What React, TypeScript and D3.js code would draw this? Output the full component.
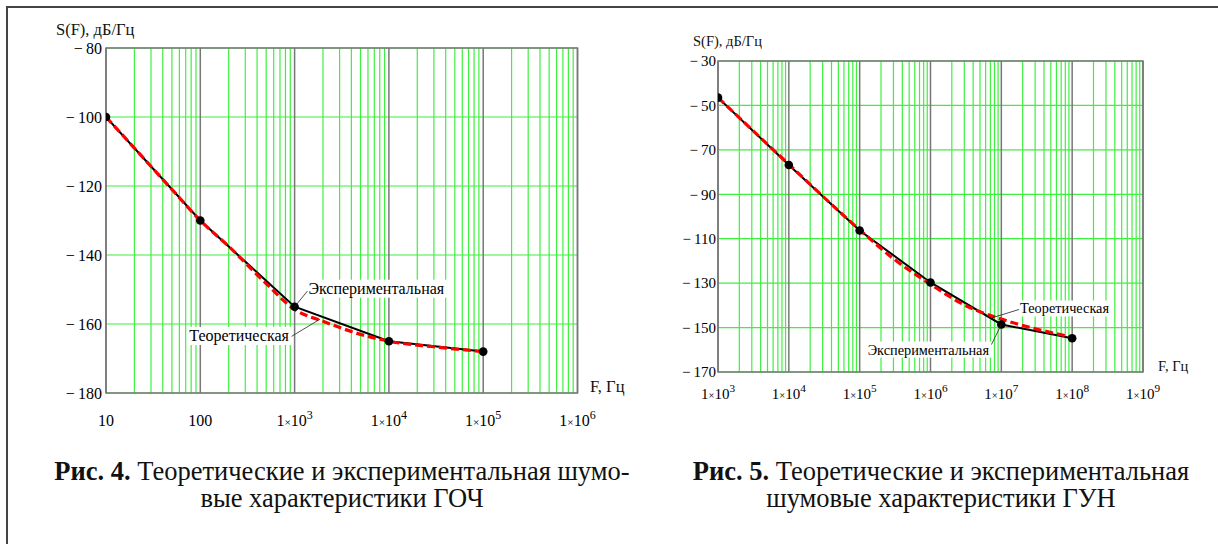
import React, { useRef, useEffect } from "react";
import * as d3 from "d3";

// Рис. 4 — ГОЧ
const gochExpFreq = [10, 100, 1e3, 1e4, 1e5];
const gochExp = [-100, -130, -155, -165, -168];
const gochTheoryFreq = [10, 20, 50, 100, 200, 500, 1e3, 2e3, 5e3, 1e4, 3e4, 1e5];
const gochTheory = [-100, -109, -121, -130, -137.5, -148.3, -155.8, -159.2, -163, -165, -166.6, -168];
const gochYTicks = [-80, -100, -120, -140, -160, -180];
const gochXTicks = [10, 100, 1e3, 1e4, 1e5, 1e6];

// Рис. 5 — ГУН
const gunExpFreq = [1e3, 1e4, 1e5, 1e6, 1e7, 1e8];
const gunExp = [-46.5, -76.8, -106.3, -129.7, -148.6, -154.8];
const gunTheoryFreq = [1e3, 1e4, 1e5, 3e5, 1e6, 3e6, 1e7, 3e7, 1e8];
const gunTheory = [-46.5, -76.5, -106, -119, -130.5, -139.8, -146.2, -150.5, -154.3];
const gunYTicks = [-30, -50, -70, -90, -110, -130, -150, -170];
const gunXTicks = [1e3, 1e4, 1e5, 1e6, 1e7, 1e8, 1e9];

const FONT = "Liberation Serif, Times New Roman, DejaVu Serif, serif";

let clipId = 0;

function drawChart(svg, o) {
  const x = d3.scaleLog().domain(o.xDomain).range([o.left, o.right]);
  const y = d3.scaleLinear().domain(o.yDomain).range([o.bottom, o.top]);
  const g = svg.append("g");

  // сетка: промежуточные значения внутри декад
  const minor = [];
  for (let p = Math.log10(o.xDomain[0]); p < Math.log10(o.xDomain[1]); p++) {
    for (let k = 2; k <= 9; k++) minor.push(k * Math.pow(10, p));
  }
  g.selectAll(".minor").data(minor).join("line")
    .attr("x1", (d) => x(d)).attr("x2", (d) => x(d))
    .attr("y1", o.top).attr("y2", o.bottom)
    .attr("stroke", "#3ef03e").attr("stroke-width", 1.2);
  g.selectAll(".hgrid").data(o.yTicks).join("line")
    .attr("x1", o.left).attr("x2", o.right)
    .attr("y1", (d) => y(d)).attr("y2", (d) => y(d))
    .attr("stroke", "#3ef03e").attr("stroke-width", 1.2);
  g.selectAll(".major").data(o.xTicks).join("line")
    .attr("x1", (d) => x(d)).attr("x2", (d) => x(d))
    .attr("y1", o.top).attr("y2", o.bottom)
    .attr("stroke", "#777").attr("stroke-width", 1.5);
  g.append("rect")
    .attr("x", o.left).attr("y", o.top)
    .attr("width", o.right - o.left).attr("height", o.bottom - o.top)
    .attr("fill", "none").attr("stroke", "#777").attr("stroke-width", 1.5);

  // подписи осей
  g.selectAll(".ytick").data(o.yTicks).join("text")
    .attr("x", o.left - o.tickGap).attr("y", (d) => y(d))
    .attr("dy", "0.35em").attr("text-anchor", "end")
    .style("font-family", FONT).attr("font-size", o.fs)
    .text((d) => "\u2212\u2009" + Math.abs(d));

  const xl = g.selectAll(".xtick").data(o.xTicks).join("text")
    .attr("x", (d) => x(d)).attr("y", o.xLabelY)
    .attr("text-anchor", "middle")
    .style("font-family", FONT).attr("font-size", o.fs);
  xl.each(function (d) {
    const t = d3.select(this);
    const p = Math.round(Math.log10(d));
    if (p <= 2) {
      t.text(String(d));
    } else {
      t.append("tspan").text("1");
      t.append("tspan").attr("font-size", o.fs * 0.7).text("\u00d7");
      t.append("tspan").text("10");
      t.append("tspan").attr("font-size", o.fs * 0.75).attr("dy", -o.fs * 0.45).text(String(p));
    }
  });

  g.append("text")
    .attr("x", o.yTitleX).attr("y", o.yTitleY)
    .style("font-family", FONT).attr("font-size", o.titleFs)
    .attr("fill", "#111")
    .text("S(F), дБ/Гц");
  g.append("text")
    .attr("x", o.xTitleX).attr("y", o.xTitleY)
    .style("font-family", FONT).attr("font-size", o.titleFs)
    .attr("fill", "#111")
    .text("F, Гц");

  // линии
  const id = "plotclip" + clipId++;
  svg.append("clipPath").attr("id", id).append("rect")
    .attr("x", o.left).attr("y", o.top)
    .attr("width", o.right - o.left).attr("height", o.bottom - o.top);
  const exp = o.expFreq.map((f, i) => [f, o.exp[i]]);
  const theory = o.theoryFreq.map((f, i) => [f, o.theory[i]]);
  const plot = g.append("g").attr("clip-path", `url(#${id})`);
  plot.append("path").datum(exp)
    .attr("fill", "none").attr("stroke", "#000").attr("stroke-width", 2)
    .attr("d", d3.line().x((d) => x(d[0])).y((d) => y(d[1])));
  plot.append("path").datum(theory)
    .attr("fill", "none").attr("stroke", "#f00").attr("stroke-width", 3.2)
    .attr("stroke-dasharray", "8,4")
    .attr("d", d3.line().curve(d3.curveMonotoneX).x((d) => x(d[0])).y((d) => y(d[1])));
  plot.selectAll("circle").data(exp).join("circle")
    .attr("cx", (d) => x(d[0])).attr("cy", (d) => y(d[1]))
    .attr("r", 4.3).attr("fill", "#000");

  // выноски
  o.notes.forEach((n) => {
    const ax = x(n.at[0]), ay = y(n.at[1]);
    const tx = x(n.label[0]), ty = y(n.label[1]);
    const t = g.append("text")
      .attr("x", tx).attr("y", ty).attr("dy", "0.35em")
      .attr("text-anchor", n.anchor)
      .style("font-family", FONT).attr("font-size", o.noteFs)
      .text(n.text);
    const b = t.node().getBBox();
    g.insert("rect", () => t.node())
      .attr("x", b.x - 2).attr("y", b.y).attr("width", b.width + 4).attr("height", b.height)
      .attr("fill", "#fff");
    const ex = n.anchor === "start" ? b.x - 1 : b.x + b.width + 2;
    g.append("line")
      .attr("x1", ax).attr("y1", ay).attr("x2", ex).attr("y2", ty + n.dy)
      .attr("stroke", "#222").attr("stroke-width", 0.8);
  });
}

const App = () => {
  const ref = useRef(null);

  useEffect(() => {
    const svg = d3.select(ref.current);
    svg.selectAll("*").remove();
    clipId = 0;

    svg.append("rect").attr("width", 1218).attr("height", 544).attr("fill", "#fff");
    svg.append("path")
      .attr("d", "M7,560V7H1230")
      .attr("fill", "none").attr("stroke", "#444").attr("stroke-width", 2);

    drawChart(svg, {
      xDomain: [10, 1e6], yDomain: [-180, -80],
      left: 106, right: 577.5, top: 48, bottom: 393,
      yTicks: gochYTicks, xTicks: gochXTicks,
      expFreq: gochExpFreq, exp: gochExp, theoryFreq: gochTheoryFreq, theory: gochTheory,
      fs: 16, titleFs: 16.5, noteFs: 16, tickGap: 4, xLabelY: 426,
      yTitleX: 56, yTitleY: 35, xTitleX: 590, xTitleY: 392,
      notes: [
        { text: "Экспериментальная", at: [1e3, -155], label: [1400, -149.6], anchor: "start", dy: 3 },
        { text: "Теоретическая", at: [1862, -158.6], label: [870, -163.3], anchor: "end", dy: 1 },
      ],
    });

    drawChart(svg, {
      xDomain: [1e3, 1e9], yDomain: [-170, -30],
      left: 718, right: 1143, top: 61, bottom: 372,
      yTicks: gunYTicks, xTicks: gunXTicks,
      expFreq: gunExpFreq, exp: gunExp, theoryFreq: gunTheoryFreq, theory: gunTheory,
      fs: 15, titleFs: 14.5, noteFs: 14.3, tickGap: 2, xLabelY: 399,
      yTitleX: 693, yTitleY: 46, xTitleX: 1158, xTitleY: 371,
      notes: [
        { text: "Теоретическая", at: [7.4e6, -145.6], label: [1.84e7, -141.4], anchor: "start", dy: 1 },
        { text: "Экспериментальная", at: [1e7, -148.6], label: [6.7e6, -159.9], anchor: "end", dy: -5 },
      ],
    });

    // подписи к рисункам
    const captions = [
      { cx: 342, lines: [["Рис. 4.", " Теоретические и экспериментальная шумо-"], ["", "вые характеристики ГОЧ"]] },
      { cx: 941, lines: [["Рис. 5.", " Теоретические и экспериментальная"], ["", "шумовые характеристики ГУН"]] },
    ];
    captions.forEach((c) => {
      c.lines.forEach((l, i) => {
        const t = svg.append("text")
          .attr("x", c.cx).attr("y", 480 + i * 27)
          .attr("text-anchor", "middle")
          .style("font-family", FONT).attr("font-size", 26.5).attr("fill", "#111");
        if (l[0]) t.append("tspan").attr("font-weight", "bold").text(l[0]);
        t.append("tspan").text(l[1]);
      });
    });
  }, []);

  return (
    <div style={{ position: "absolute", left: 0, top: 0 }}>
      <svg ref={ref} width={1218} height={544} style={{ display: "block" }} />
    </div>
  );
};

export default App;
